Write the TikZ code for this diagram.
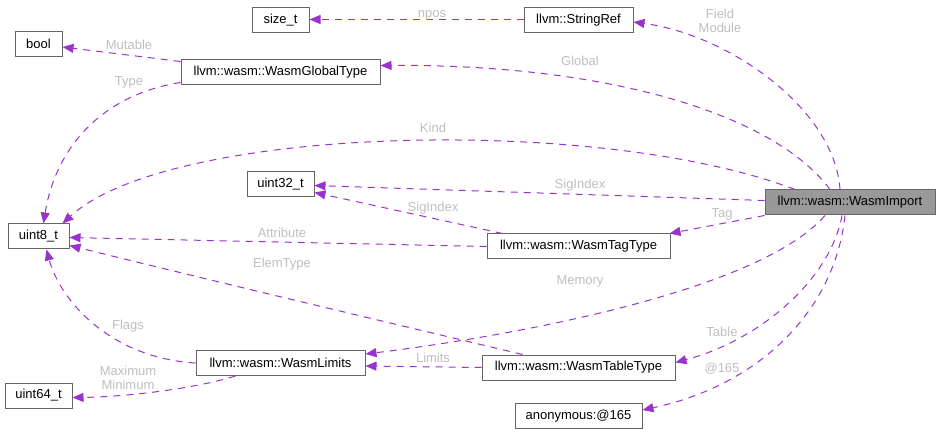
\documentclass[tikz,border=0pt]{standalone}
\usepackage{fontspec}
\setmainfont{Liberation Sans}
\usetikzlibrary{arrows.meta}
\definecolor{edgepurple}{HTML}{9A32CD}
\definecolor{boxgray}{HTML}{666666}
\definecolor{hlgray}{HTML}{999999}
\definecolor{lblgray}{HTML}{BEBEBE}
\begin{document}
\begin{tikzpicture}[x=1pt,y=-1pt,
        box/.style={draw=boxgray, line width=1pt, inner sep=0pt, minimum height=25pt,
            font=\fontsize{13}{15}\selectfont},
        boxhl/.style={box, fill=hlgray},
        dep/.style={draw=edgepurple, line width=1pt, dash pattern=on 7pt off 6pt,
            -{Triangle[length=11pt,width=9pt]}},
        lbl/.style={text=lblgray, inner sep=0pt, align=center,
            font=\fontsize{13}{14}\selectfont}]

            \useasboundingbox (0,0) rectangle (941,435);

            \node[box, minimum width=57pt] (sizet) at (280.5,20) {size\_t};
            \node[box, minimum width=109pt] (sref) at (578.5,20) {llvm::StringRef};
            \node[box, minimum width=47pt] (bool) at (38.5,44) {bool};
            \node[box, minimum width=199pt] (glob) at (280.5,72.5) {llvm::wasm::WasmGlobalType};
            \node[box, minimum width=67pt] (u32) at (280.5,184.5) {uint32\_t};
            \node[boxhl, minimum width=170pt] (imp) at (850,202.5) {llvm::wasm::WasmImport};
            \node[box, minimum width=61pt] (u8) at (38.5,236.5) {uint8\_t};
            \node[box, minimum width=183pt] (tag) at (578.5,246.5) {llvm::wasm::WasmTagType};
            \node[box, minimum width=169pt] (lim) at (280.5,363) {llvm::wasm::WasmLimits};
            \node[box, minimum width=193pt] (tbl) at (578.5,367.5) {llvm::wasm::WasmTableType};
            \node[box, minimum width=67pt] (u64) at (38.5,395.5) {uint64\_t};
            \node[box, minimum width=127pt] (anon) at (578.5,416) {anonymous:@165};

            \draw[dep] ([yshift=0.5pt]sref.west) -- ([yshift=0.5pt]sizet.east);
            \draw[dep] ([xshift=-10pt]imp.north) .. controls (835,110) and (730,35) .. ([yshift=-2pt]sref.east);
            \draw[dep] ([xshift=-20pt]imp.north) .. controls (775,115) and (610,64) .. ([yshift=7pt]glob.east);
            \draw[dep] ([xshift=-55pt]imp.north) .. controls (600,115) and (170,125) .. ([xshift=-7pt]u8.north east);
            \draw[dep] ([yshift=2pt]imp.west) -- ([yshift=-1pt]u32.east);
            \draw[dep] (imp.south west) -- ([xshift=-1pt]tag.north east);
            \draw[dep] ([xshift=-25pt]imp.south) .. controls (760,290) and (520,335) .. ([yshift=9pt]lim.east);
            \draw[dep] ([xshift=-8pt]imp.south) .. controls (830,280) and (760,340) .. ([yshift=5pt]tbl.east);
            \draw[dep] ([xshift=-5pt]imp.south) .. controls (835,310) and (760,385) .. ([yshift=6pt]anon.east);
            \draw[dep] ([yshift=11pt]glob.west) -- ([yshift=-3pt]bool.east);
            \draw[dep] ([yshift=-10pt]glob.west) .. controls (100,95) and (55,150) .. ([xshift=5pt]u8.north);
            \draw[dep] ([xshift=-76pt]tag.north) -- ([yshift=-8pt]u32.east);
            \draw[dep] (tag.west) -- ([yshift=-1pt]u8.east);
            \draw[dep] ([xshift=-56pt]tbl.north) .. controls (420,330) and (250,290) .. ([yshift=-9pt]u8.east);
            \draw[dep] (tbl.west) -- ([yshift=-3pt]lim.east);
            \draw[dep] (lim.west) .. controls (110,358) and (60,300) .. ([xshift=8pt]u8.south);
            \draw[dep] ([xshift=-45pt]lim.south) .. controls (190,390) and (120,397) .. ([yshift=-2pt]u64.east);

            \node[lbl] (lnpos) at (432,15) {npos};
            \node[lbl] (lfield) at (720,21) {Field\\Module};
            \node[lbl] (lglobal) at (580,61) {Global};
            \node[lbl] (lkind) at (433,128) {Kind};
            \node[lbl] (lsig) at (580,185) {SigIndex};
            \node[lbl] (ltag) at (722,214) {Tag};
            \node[lbl] (lmem) at (580,281) {Memory};
            \node[lbl] (ltable) at (722,332) {Table};
            \node[lbl] (lanon) at (722,369) {@165};
            \node[lbl] (lmut) at (129,45) {Mutable};
            \node[lbl] (ltype) at (129,82) {Type};
            \node[lbl] (lsigtag) at (433,208) {SigIndex};
            \node[lbl] (lattr) at (282,233) {Attribute};
            \node[lbl] (lelem) at (282,264) {ElemType};
            \node[lbl] (llimits) at (433,358) {Limits};
            \node[lbl] (lflags) at (128,326) {Flags};
            \node[lbl] (lmaxmin) at (128,378) {Maximum\\Minimum};
        \end{tikzpicture}
\end{document}
